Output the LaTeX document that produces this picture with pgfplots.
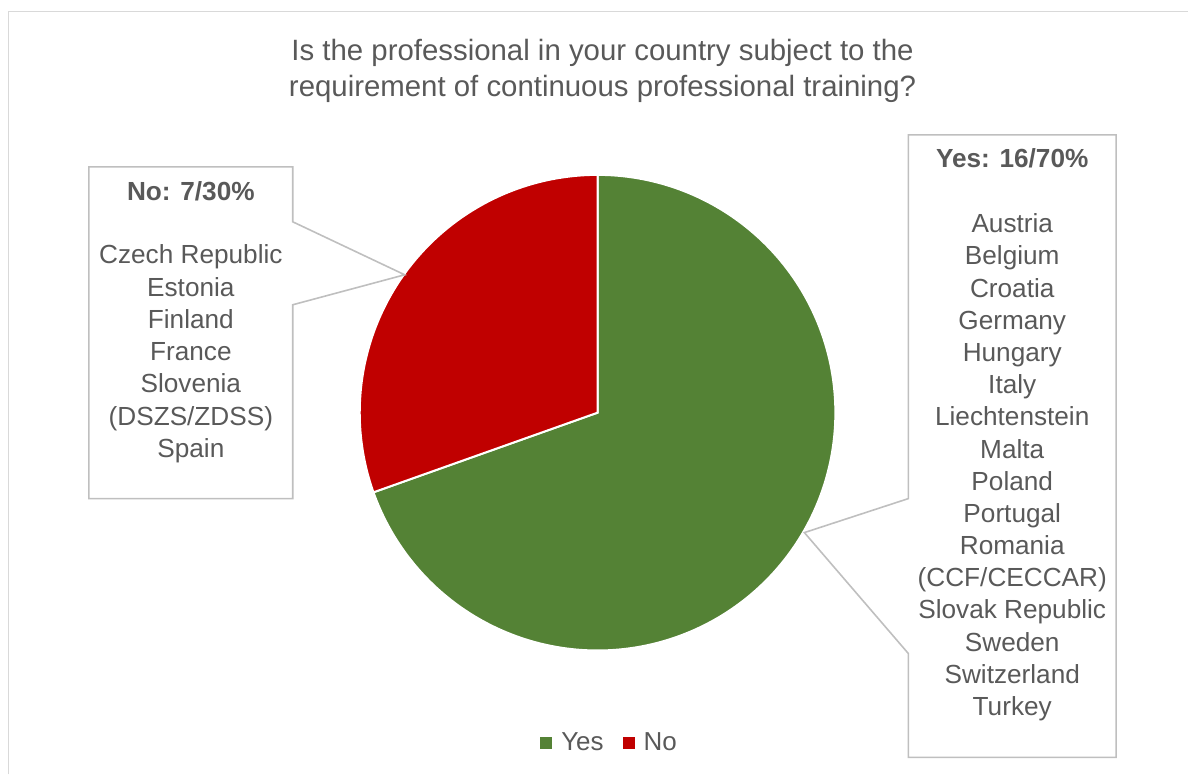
\documentclass[border=0pt]{standalone}
\usepackage{fontspec}
\setmainfont{Liberation Sans}
\usepackage{pgfplots}
\pgfplotsset{compat=1.18}
\definecolor{pgreen}{HTML}{548235}
\definecolor{pred}{HTML}{C00000}
\definecolor{txt}{HTML}{595959}
\definecolor{boxc}{HTML}{BFBFBF}
\definecolor{framec}{HTML}{D9D9D9}
% data: number of countries
\def\yesN{16}
\def\noN{7}
\pgfmathsetmacro{\yesAng}{360*\yesN/(\yesN+\noN)}
\pgfmathsetmacro{\yesStart}{90-\yesAng}
\pgfmathsetmacro{\noEnd}{90+360*\noN/(\yesN+\noN)}
\newcommand{\ctry}{\fontsize{13.1}{15}\selectfont}
\begin{document}
\begin{tikzpicture}
\begin{axis}[
  scale only axis, width=594.5pt, height=387.5pt,
  xmin=0, xmax=1189, ymin=0, ymax=775,
  hide axis, clip=false,
  legend style={at={(axis cs:609,31)}, anchor=center, draw=none, fill=none,
    legend columns=-1, font=\fontsize{13}{15}\selectfont, text=txt,
    inner sep=0pt, nodes={inner sep=0pt},
    /tikz/every odd column/.append style={column sep=4.5pt},
    /tikz/every even column/.append style={column sep=9.5pt}},
  legend image code/.code={\path[#1] (0pt,-3pt) rectangle (6pt,3pt);},
]
\path (axis cs:0,0) rectangle (axis cs:1189,775);
% outer frame (left and top visible)
\draw[framec, line width=0.9pt] (axis cs:8.5,0) -- (axis cs:8.5,763.5) -- (axis cs:1189,763.5);
% pie
\addplot[forget plot, fill=pgreen, draw=white, line width=1pt, domain=\yesStart:90, samples=200, variable=\t]
  ({598+238*cos(\t)},{362+238*sin(\t)}) -- (axis cs:598,362) -- cycle;
\addplot[forget plot, fill=pred, draw=white, line width=1pt, domain=90:\noEnd, samples=120, variable=\t]
  ({598+238*cos(\t)},{362+238*sin(\t)}) -- (axis cs:598,362) -- cycle;
\addlegendimage{fill=pgreen, draw=none}
\addlegendentry{Yes}
\addlegendimage{fill=pred, draw=none}
\addlegendentry{No}
% title
\node[anchor=base, text=txt, font=\fontsize{14.7}{17}\selectfont] at (axis cs:603,714) {Is the professional in your country subject to the};
\node[anchor=base, text=txt, font=\fontsize{14.7}{17}\selectfont] at (axis cs:603,678) {requirement of continuous professional training?};
% callout boxes
\draw[boxc, line width=0.8pt] (axis cs:89,608) -- (axis cs:293,608) -- (axis cs:293,553) -- (axis cs:405,500) -- (axis cs:293,470) -- (axis cs:293,276) -- (axis cs:89,276) -- cycle;
\draw[boxc, line width=0.8pt] (axis cs:909,640) -- (axis cs:1117,640) -- (axis cs:1117,17) -- (axis cs:909,17) -- (axis cs:909,121) -- (axis cs:805,242) -- (axis cs:909,276) -- cycle;
% No box text
\node[anchor=base, text=txt, font=\ctry\bfseries] at (axis cs:191,574) {No: 7/30\%};
\node[anchor=base, text=txt, font=\ctry] at (axis cs:191,511) {Czech Republic};
\node[anchor=base, text=txt, font=\ctry] at (axis cs:191,478.7) {Estonia};
\node[anchor=base, text=txt, font=\ctry] at (axis cs:191,446.4) {Finland};
\node[anchor=base, text=txt, font=\ctry] at (axis cs:191,414.1) {France};
\node[anchor=base, text=txt, font=\ctry] at (axis cs:191,381.8) {Slovenia};
\node[anchor=base, text=txt, font=\ctry] at (axis cs:191,349.5) {(DSZS/ZDSS)};
\node[anchor=base, text=txt, font=\ctry] at (axis cs:191,317.2) {Spain};
% Yes box text
\node[anchor=base, text=txt, font=\ctry\bfseries] at (axis cs:1013,607) {Yes: 16/70\%};
\node[anchor=base, text=txt, font=\ctry] at (axis cs:1013,542) {Austria};
\node[anchor=base, text=txt, font=\ctry] at (axis cs:1013,509.8) {Belgium};
\node[anchor=base, text=txt, font=\ctry] at (axis cs:1013,477.6) {Croatia};
\node[anchor=base, text=txt, font=\ctry] at (axis cs:1013,445.4) {Germany};
\node[anchor=base, text=txt, font=\ctry] at (axis cs:1013,413.2) {Hungary};
\node[anchor=base, text=txt, font=\ctry] at (axis cs:1013,381) {Italy};
\node[anchor=base, text=txt, font=\ctry] at (axis cs:1013,348.8) {Liechtenstein};
\node[anchor=base, text=txt, font=\ctry] at (axis cs:1013,316.6) {Malta};
\node[anchor=base, text=txt, font=\ctry] at (axis cs:1013,284.4) {Poland};
\node[anchor=base, text=txt, font=\ctry] at (axis cs:1013,252.2) {Portugal};
\node[anchor=base, text=txt, font=\ctry] at (axis cs:1013,220) {Romania};
\node[anchor=base, text=txt, font=\ctry] at (axis cs:1013,187.8) {(CCF/CECCAR)};
\node[anchor=base, text=txt, font=\ctry] at (axis cs:1013,155.6) {Slovak Republic};
\node[anchor=base, text=txt, font=\ctry] at (axis cs:1013,123.4) {Sweden};
\node[anchor=base, text=txt, font=\ctry] at (axis cs:1013,91.2) {Switzerland};
\node[anchor=base, text=txt, font=\ctry] at (axis cs:1013,59) {Turkey};
\end{axis}
\end{tikzpicture}
\end{document}
